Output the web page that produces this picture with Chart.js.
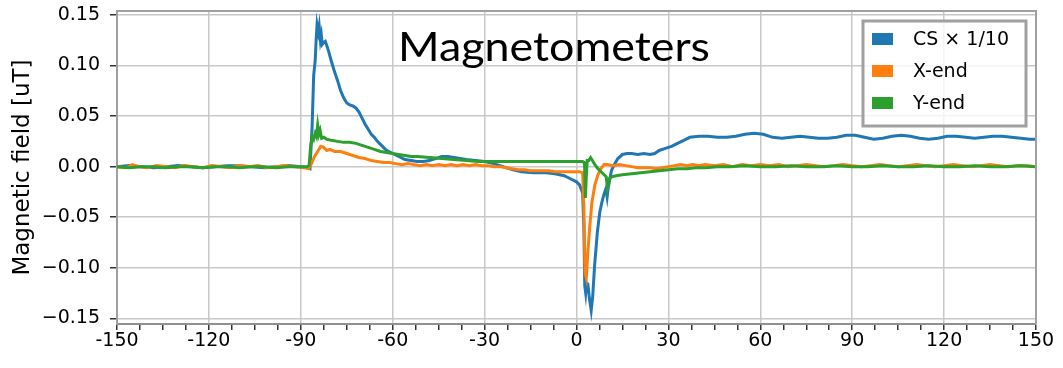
<!DOCTYPE html>
<html>
<head>
<meta charset="utf-8">
<script src="https://cdn.jsdelivr.net/npm/chart.js@4.4.1/dist/chart.umd.min.js"></script>
<style>
  html, body { margin: 0; padding: 0; background: #fff; }
  #wrap { width: 1063px; height: 368px; }
</style>
</head>
<body>
<div id="wrap"><canvas id="magChart" width="1063" height="368"></canvas></div>
<script>
// time [s] and field [uT]
const csTime = [-150, -146, -142, -138, -134, -130, -126, -122, -118, -114, -110, -106, -102, -98, -94, -90, -88, -87,
  -86.3, -85.8, -85.3, -85, -84.7, -84.3, -84, -83.6, -83.3, -83, -82.5, -82, -81, -80, -79, -78, -77, -76, -75, -74,
  -73, -72, -71, -70, -69, -68, -67, -66, -65, -64, -63, -62, -60, -58, -56, -54, -52, -50, -48, -46, -44, -42, -40,
  -38, -36, -33, -30, -27, -24, -21, -18, -14, -10, -7, -4, -2, 0, 1, 2, 2.4, 2.7, 3.0, 3.3, 3.7, 4.2, 4.8, 5.3, 5.9,
  6.8, 7.6, 8.3, 9, 9.6, 10, 10.4, 11.4, 12.5, 13.5, 15, 16.5, 18, 20, 22, 24, 25.5, 27, 29, 31, 33, 35, 37, 40, 43,
  46, 49, 52, 55, 58, 61, 64, 67, 70, 73, 76, 79, 82, 85, 88, 91, 94, 97, 100, 103, 106, 109, 112, 115, 118, 121, 124,
  127, 130, 133, 136, 139, 142, 145, 148, 150];
const csValues = [0.000, 0.001, 0.000, -0.001, 0.000, 0.001, 0.000, -0.001, 0.000, 0.001, 0.001, 0.000, -0.001, 0.000,
  0.001, 0.000, -0.001, -0.002, 0.040, 0.090, 0.105, 0.125, 0.140, 0.133, 0.139, 0.125, 0.130, 0.121, 0.123, 0.124,
  0.115, 0.104, 0.094, 0.085, 0.075, 0.068, 0.063, 0.061, 0.060, 0.058, 0.054, 0.048, 0.042, 0.037, 0.032, 0.029,
  0.025, 0.022, 0.019, 0.016, 0.013, 0.010, 0.007, 0.006, 0.005, 0.005, 0.006, 0.008, 0.010, 0.010, 0.009, 0.008,
  0.007, 0.006, 0.005, 0.003, 0.000, -0.003, -0.005, -0.006, -0.006, -0.007, -0.009, -0.012, -0.015, -0.018, -0.026,
  -0.060, -0.118, -0.125, -0.115, -0.116, -0.130, -0.142, -0.128, -0.098, -0.065, -0.045, -0.035, -0.027, -0.022,
  -0.030, -0.020, -0.004, 0.003, 0.008, 0.012, 0.013, 0.013, 0.012, 0.013, 0.012, 0.013, 0.016, 0.018, 0.020, 0.023,
  0.026, 0.029, 0.030, 0.030, 0.029, 0.029, 0.030, 0.032, 0.033, 0.032, 0.029, 0.028, 0.029, 0.030, 0.029, 0.028,
  0.028, 0.029, 0.031, 0.031, 0.029, 0.027, 0.028, 0.030, 0.031, 0.030, 0.028, 0.027, 0.028, 0.030, 0.030, 0.029,
  0.028, 0.029, 0.030, 0.030, 0.029, 0.028, 0.027, 0.027];

const xEndTime = [-150, -147, -145, -143, -140, -137, -134, -131, -128, -125, -122, -119, -116, -113, -110, -107, -104,
  -101, -98, -95, -92, -89, -87.5, -86.5, -85.5, -84.5, -83.5, -82.5, -81.5, -80.5, -79, -77, -75, -73, -71, -69, -67,
  -65, -63, -61, -59, -57, -55, -53, -51, -49, -47, -45, -43, -41, -39, -37, -35, -33, -31, -29, -27, -25, -23, -21,
  -19, -17, -15, -13, -11, -9, -7, -5, -3, -1, 1, 2, 2.4, 2.8, 3.2, 3.7, 4.3, 5, 6, 7, 8, 9, 10, 12, 14, 16, 18, 20,
  22, 24, 26, 28, 30, 32, 34, 36, 38, 40, 42, 45, 48, 51, 54, 57, 60, 63, 66, 69, 72, 75, 78, 81, 84, 87, 90, 93, 96,
  99, 102, 105, 108, 111, 114, 117, 120, 123, 126, 129, 132, 135, 138, 141, 144, 147, 150];
const xEndValues = [0.000, -0.001, 0.002, 0.000, -0.001, 0.001, 0.000, -0.001, 0.001, 0.000, -0.001, 0.001, 0.000,
  -0.001, 0.001, 0.000, 0.001, -0.001, 0.000, 0.001, 0.000, -0.001, -0.002, 0.003, 0.010, 0.015, 0.020, 0.019, 0.016,
  0.017, 0.015, 0.015, 0.013, 0.011, 0.009, 0.008, 0.006, 0.005, 0.004, 0.004, 0.003, 0.002, 0.003, 0.002, 0.001,
  0.002, 0.001, 0.002, 0.001, 0.002, 0.001, 0.002, 0.001, 0.002, 0.001, 0.001, 0.000, 0.000, -0.001, -0.002, -0.003,
  -0.003, -0.004, -0.004, -0.004, -0.004, -0.005, -0.005, -0.005, -0.005, -0.005, -0.006, -0.040, -0.105, -0.110,
  -0.085, -0.060, -0.036, -0.018, -0.008, -0.002, 0.002, 0.002, 0.001, 0.002, 0.001, 0.000, -0.001, -0.001, -0.001,
  -0.002, -0.001, 0.000, 0.001, 0.002, 0.001, 0.002, 0.001, 0.002, 0.001, 0.002, 0.000, 0.002, 0.001, 0.002, 0.001,
  0.002, 0.000, 0.001, 0.002, 0.001, 0.000, 0.001, 0.002, 0.001, 0.000, 0.001, 0.002, 0.001, 0.000, 0.001, 0.002,
  0.001, 0.000, 0.001, 0.002, 0.001, 0.000, 0.001, 0.002, 0.001, 0.000, 0.001, 0.001, 0.000];

const yEndTime = [-150, -146, -142, -138, -134, -130, -126, -122, -118, -114, -110, -106, -102, -98, -94, -90, -88,
  -87.3, -86.8, -86.3, -85.8, -85.3, -84.9, -84.5, -84.1, -83.7, -83.2, -82.5, -81.5, -80, -78, -76, -74, -72, -70,
  -68, -66, -64, -62, -60, -58, -56, -54, -52, -48, -44, -40, -36, -32, -28, -24, -20, -16, -12, -8, -4, 0, 2, 2.6,
  2.9, 3.2, 3.5, 4, 4.6, 5.2, 6, 7, 8, 9, 9.7, 10.1, 10.6, 11.5, 13, 15, 18, 21, 24, 27, 30, 33, 36, 39, 42, 46, 50,
  55, 60, 65, 70, 75, 80, 85, 90, 95, 100, 105, 110, 115, 120, 125, 130, 135, 140, 145, 150];
const yEndValues = [0.000, -0.001, 0.000, 0.000, -0.001, 0.000, 0.000, -0.001, 0.000, 0.000, -0.001, 0.000, 0.000,
  -0.001, 0.000, 0.000, 0.000, 0.001, 0.020, 0.030, 0.027, 0.033, 0.030, 0.041, 0.032, 0.036, 0.028, 0.029, 0.027,
  0.026, 0.025, 0.024, 0.024, 0.023, 0.021, 0.019, 0.017, 0.015, 0.014, 0.013, 0.012, 0.011, 0.010, 0.010, 0.009,
  0.008, 0.007, 0.006, 0.005, 0.005, 0.005, 0.005, 0.005, 0.005, 0.005, 0.005, 0.005, 0.005, 0.004, -0.031, -0.010,
  0.006, 0.006, 0.009, 0.006, 0.002, -0.002, -0.005, -0.008, -0.010, -0.021, -0.012, -0.010, -0.009, -0.008, -0.007,
  -0.006, -0.005, -0.004, -0.003, -0.002, -0.002, -0.001, -0.001, 0.000, 0.000, 0.001, 0.000, 0.000, 0.001, 0.000,
  0.000, 0.001, 0.000, 0.000, 0.001, 0.000, 0.000, 0.001, 0.000, 0.000, 0.001, 0.000, 0.000, 0.001, 0.000];

const seriesLabels = ['CS \u00d7 1/10', 'X-end', 'Y-end'];
const seriesColors = ['#1f77b4', '#ff7f0e', '#2ca02c'];
const xTickLabels = [-150, -120, -90, -60, -30, 0, 30, 60, 90, 120, 150];
const yTickLabels = [-0.15, -0.10, -0.05, 0.00, 0.05, 0.10, 0.15];
const chartTitle = 'Magnetometers';

function pairs(t, v) {
  return t.map((x, i) => ({ x: x, y: v[i] }));
}

const tickFont = { family: 'DejaVu Sans', size: 19 };

// title inside the plot area
const titlePlugin = {
  id: 'insideTitle',
  afterDraw(chart) {
    const ctx = chart.ctx;
    ctx.save();
    ctx.font = '40px Lato';
    const w = ctx.measureText(chartTitle).width;
    ctx.translate(398, 61);
    ctx.scale(312 / w, 1);
    ctx.fillStyle = '#000';
    ctx.textBaseline = 'alphabetic';
    ctx.fillText(chartTitle, 0, 0);
    ctx.restore();
  }
};

// frame on top/right + boxed legend top right
const framePlugin = {
  id: 'frameLegend',
  afterDraw(chart) {
    const ctx = chart.ctx;
    const a = chart.chartArea;
    ctx.save();
    ctx.strokeStyle = '#a0a0a0';
    ctx.lineWidth = 2;
    ctx.beginPath();
    ctx.moveTo(a.left, a.top);
    ctx.lineTo(a.right, a.top);
    ctx.lineTo(a.right, a.bottom);
    ctx.stroke();

    ctx.fillStyle = 'rgba(255,255,255,0.8)';
    ctx.fillRect(863, 21, 163, 105);
    ctx.strokeStyle = '#a0a0a0';
    ctx.lineWidth = 3;
    ctx.strokeRect(863, 21, 163, 105);

    const rows = [39, 71, 103];
    ctx.font = '19px "DejaVu Sans"';
    ctx.textBaseline = 'middle';
    chart.data.datasets.forEach((ds, i) => {
      ctx.fillStyle = ds.borderColor;
      ctx.fillRect(872, rows[i] - 6, 21, 12);
      ctx.fillStyle = '#000';
      ctx.fillText(ds.label, 913, rows[i] + 1);
    });
    ctx.restore();
  }
};

new Chart(document.getElementById('magChart'), {
  type: 'line',
  data: {
    datasets: [
      { label: seriesLabels[0], data: pairs(csTime, csValues), borderColor: seriesColors[0], order: 2 },
      { label: seriesLabels[1], data: pairs(xEndTime, xEndValues), borderColor: seriesColors[1], order: 1 },
      { label: seriesLabels[2], data: pairs(yEndTime, yEndValues), borderColor: seriesColors[2], order: 0 }
    ]
  },
  options: {
    responsive: false,
    animation: false,
    events: [],
    layout: { padding: { left: 0, top: 11, right: 27, bottom: 0 } },
    elements: {
      line: { borderWidth: 3, tension: 0, fill: false },
      point: { radius: 0 }
    },
    plugins: {
      legend: { display: false },
      tooltip: { enabled: false }
    },
    scales: {
      x: {
        type: 'linear',
        min: -150,
        max: 150,
        afterFit(scale) {
          scale.height = 44;
          scale.paddingLeft = 0;
          scale.paddingRight = 0;
        },
        afterBuildTicks(scale) {
          const t = [];
          for (let i = 0; i <= 40; i++) t.push({ value: -150 + i * 7.5 });
          scale.ticks = t;
        },
        ticks: {
          font: tickFont,
          color: '#000',
          padding: 0,
          maxRotation: 0,
          autoSkip: false,
          callback: (v) => xTickLabels.includes(v) ? String(v) : ''
        },
        grid: {
          color: (c) => (c.tick && xTickLabels.includes(c.tick.value)) ? '#c8c8c8' : 'rgba(0,0,0,0)',
          lineWidth: 1.5,
          tickColor: '#333',
          tickLength: 6
        },
        border: { color: '#909090', width: 2 }
      },
      y: {
        type: 'linear',
        min: -0.1556,
        max: 0.1539,
        afterFit(scale) {
          scale.width = 117;
          scale.paddingTop = 0;
          scale.paddingBottom = 0;
        },
        afterBuildTicks(scale) {
          scale.ticks = yTickLabels.map(v => ({ value: v }));
        },
        ticks: {
          font: tickFont,
          color: '#000',
          padding: 10,
          autoSkip: false,
          callback: (v) => v.toFixed(2).replace('-', '\u2212')
        },
        grid: {
          color: '#c8c8c8',
          lineWidth: 1.5,
          tickColor: '#333',
          tickLength: 7
        },
        border: { color: '#a0a0a0', width: 2 },
        title: {
          display: true,
          text: 'Magnetic field [uT]',
          font: { family: 'DejaVu Sans', size: 23 },
          color: '#000',
          padding: { top: 9, bottom: 0 }
        }
      }
    }
  },
  plugins: [titlePlugin, framePlugin]
});
</script>
</body>
</html>
